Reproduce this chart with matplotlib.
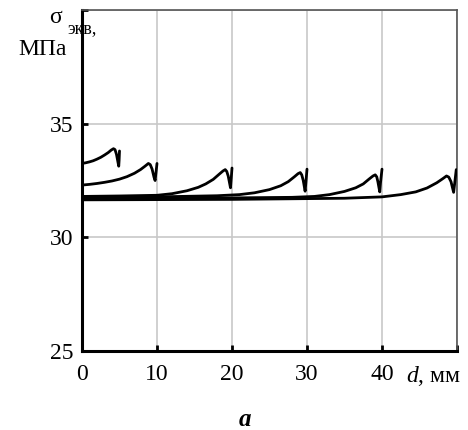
import matplotlib

matplotlib.use("Agg")
import matplotlib.pyplot as plt

plt.rcParams["font.family"] = ["Liberation Serif", "DejaVu Serif"]
plt.rcParams["mathtext.fontset"] = "custom"
plt.rcParams["mathtext.rm"] = "Liberation Serif"
plt.rcParams["mathtext.it"] = "Liberation Serif:italic"

# equivalent stress along the path for different defect spacings d
d_5 = [0, 0.5, 1.0, 1.5, 2.0, 2.5, 3.0, 3.5, 3.9, 4.2, 4.4, 4.6, 4.8, 4.9, 4.95, 5.0]
s_5 = [33.25, 33.28, 33.32, 33.37, 33.44, 33.52, 33.62, 33.73, 33.84, 33.9, 33.86,
       33.65, 33.3, 33.13, 33.4, 33.8]

d_10 = [0, 1, 2, 3, 4, 5, 6, 7, 7.8, 8.4, 8.85, 9.1, 9.35, 9.6, 9.75, 9.85, 10.0]
s_10 = [32.3, 32.33, 32.37, 32.42, 32.48, 32.56, 32.67, 32.82, 32.98, 33.13, 33.25,
        33.2, 33.0, 32.65, 32.5, 32.8, 33.25]

d_20 = [0, 5, 10, 12, 14, 15.5, 16.5, 17.5, 18.3, 18.8, 19.1, 19.3, 19.5, 19.7, 19.8,
        19.9, 20.0]
s_20 = [31.8, 31.82, 31.85, 31.92, 32.05, 32.2, 32.35, 32.55, 32.78, 32.92, 32.98,
        32.9, 32.69, 32.35, 32.18, 32.6, 33.05]

d_30 = [0, 10, 18, 21, 23, 25, 26.5, 27.5, 28.3, 28.8, 29.1, 29.3, 29.5, 29.75, 29.85,
        30.0]
s_30 = [31.75, 31.78, 31.83, 31.88, 31.96, 32.1, 32.27, 32.45, 32.66, 32.8, 32.85,
        32.75, 32.5, 32.03, 32.4, 33.0]

d_40 = [0, 15, 28, 31, 33, 35, 36.5, 37.5, 38.3, 38.8, 39.1, 39.3, 39.45, 39.7, 39.8,
        40.0]
s_40 = [31.7, 31.72, 31.76, 31.8, 31.88, 32.02, 32.18, 32.35, 32.57, 32.7, 32.75,
        32.66, 32.45, 32.0, 32.4, 33.0]

d_50 = [0, 20, 35, 40, 42.5, 44.5, 46, 47.3, 48.1, 48.6, 48.9, 49.2, 49.55, 49.7, 49.9]
s_50 = [31.65, 31.67, 31.72, 31.78, 31.88, 32.0, 32.17, 32.4, 32.58, 32.7, 32.65,
        32.45, 31.98, 32.4, 32.98]

curves = [(d_5, s_5), (d_10, s_10), (d_20, s_20), (d_30, s_30), (d_40, s_40), (d_50, s_50)]

x_ticks = [0, 10, 20, 30, 40, 50]
x_tick_labels = ["0", "10", "20", "30", "40", ""]
y_ticks = [25, 30, 35, 40]
y_tick_labels = ["25", "30", "35", ""]

fig = plt.figure(figsize=(4.68, 4.30), dpi=100)
ax = fig.add_axes([0.1752, 0.1837, 0.8013, 0.793])

for xs, ys in curves:
    ax.plot(xs, ys, color="black", lw=2.0, solid_joinstyle="round",
            solid_capstyle="round", zorder=3)

ax.set_xlim(0, 50)
ax.set_ylim(25, 40)
ax.set_xticks(x_ticks, labels=x_tick_labels)
ax.set_yticks(y_ticks, labels=y_tick_labels)
ax.grid(True, color="#c8c8c8", lw=1.2)
ax.set_axisbelow(True)

for side in ["left", "bottom"]:
    ax.spines[side].set_linewidth(2.2)
    ax.spines[side].set_color("black")
for side in ["top", "right"]:
    ax.spines[side].set_linewidth(1.2)
    ax.spines[side].set_color("#555555")

ax.tick_params(direction="in", length=4, width=2, labelsize=17, colors="black")
ax.tick_params(axis="x", pad=9)
ax.tick_params(axis="y", pad=6)

# axis titles sit where the last tick labels would be
ax.annotate("$\\mathit{d}$, мм", xy=(46.9, 0), xycoords=("data", "axes fraction"),
            xytext=(0, -9), textcoords="offset points", fontsize=17,
            ha="center", va="top")
fig.text(0.118, 0.960, "σ", fontsize=17, ha="center", va="center")
fig.text(0.175, 0.934, "экв,", fontsize=13, ha="center", va="center")
fig.text(0.09, 0.884, "МПа", fontsize=17, ha="center", va="center")
fig.text(0.524, 0.024, "a", fontsize=18, ha="center", va="center",
         style="italic", weight="bold")

fig.savefig("out.png", dpi=100)
